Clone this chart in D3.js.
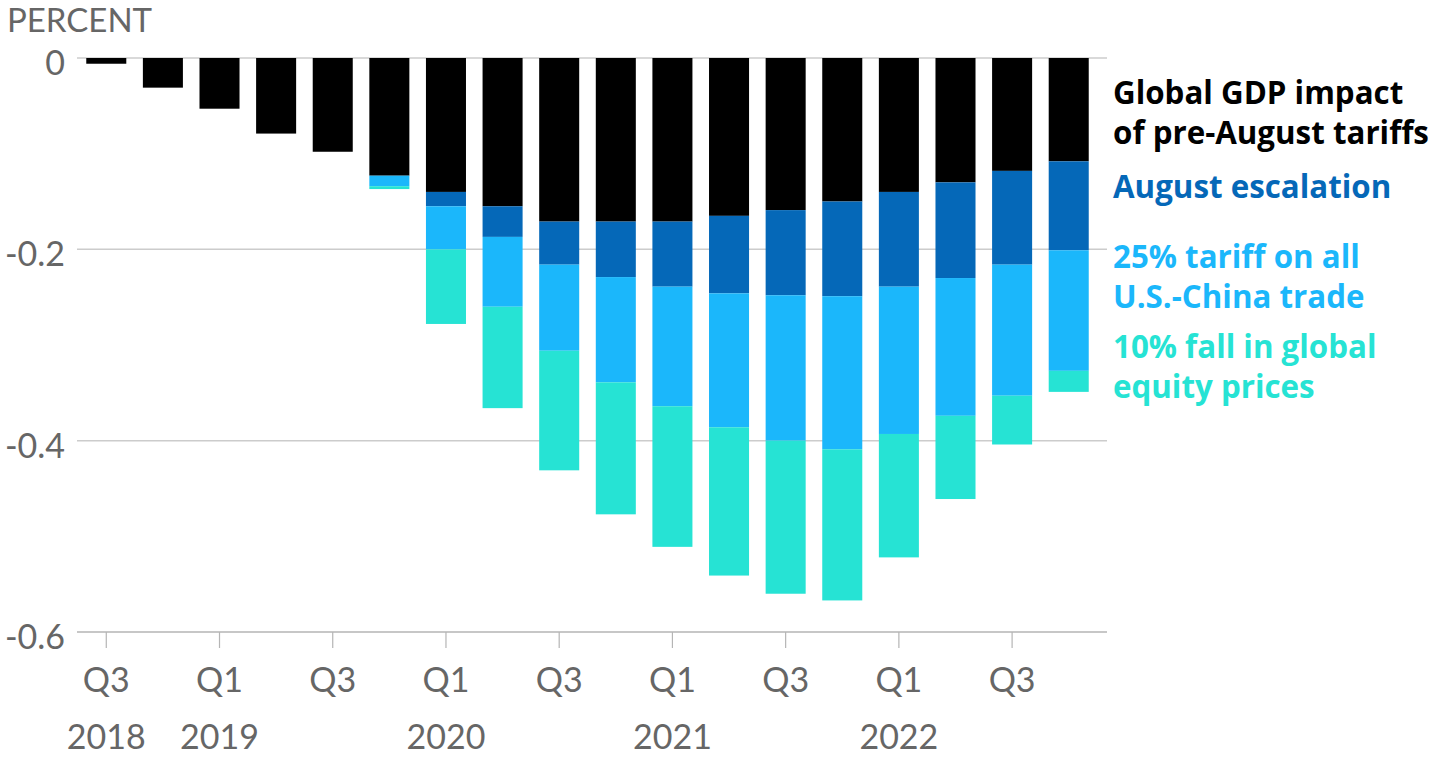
<!DOCTYPE html>
<html>
  <head>
    <title>Global GDP impact of tariffs</title>
    <script src="https://cdn.jsdelivr.net/npm/d3@7/dist/d3.min.js"></script>
    <style>
      body { margin: 0; background: #fff; }
      text { font-family: Lato, "Open Sans", sans-serif; }
      text.legend { font-family: "Open Sans", sans-serif; font-weight: bold; }
    </style>
  </head>
  <body>
    <svg width="1435" height="759"></svg>
    <script>

      // quarters, Q3 2018 .. Q4 2022
      const quarters = ["2018Q3","2018Q4","2019Q1","2019Q2","2019Q3","2019Q4",
                        "2020Q1","2020Q2","2020Q3","2020Q4","2021Q1","2021Q2",
                        "2021Q3","2021Q4","2022Q1","2022Q2","2022Q3","2022Q4"];

      // percent impact on global GDP, per layer
      const preAugust   = [-0.006,-0.031,-0.053,-0.079,-0.098,-0.123,-0.140,-0.155,-0.171,
                           -0.171,-0.171,-0.165,-0.159,-0.150,-0.140,-0.130,-0.118,-0.108];
      const augustEsc   = [0,0,0,0,0,0,-0.015,-0.032,-0.045,
                           -0.058,-0.068,-0.081,-0.089,-0.099,-0.099,-0.100,-0.098,-0.093];
      const tariff25    = [0,0,0,0,0,-0.011,-0.045,-0.073,-0.090,
                           -0.110,-0.125,-0.140,-0.152,-0.160,-0.154,-0.144,-0.137,-0.126];
      const equityFall  = [0,0,0,0,0,-0.003,-0.078,-0.106,-0.125,
                           -0.138,-0.147,-0.155,-0.160,-0.158,-0.129,-0.087,-0.051,-0.022];

      const seriesKeys   = ["pre","aug","t25","eq"];
      const seriesColors = ["#000000","#0568b8","#1bb7fb","#26e3d4"];
      const legendLines  = [
        ["Global GDP impact","of pre-August tariffs"],
        ["August escalation"],
        ["25% tariff on all","U.S.-China trade"],
        ["10% fall in global","equity prices"]
      ];

      const yTicks = [0,-0.2,-0.4,-0.6];
      const qTicks = ["2018Q3","2019Q1","2019Q3","2020Q1","2020Q3","2021Q1","2021Q3","2022Q1","2022Q3"];
      const yearTicks = ["2018Q3","2019Q1","2020Q1","2021Q1","2022Q1"];

      const svg = d3.select("svg");

      const table = quarters.map((q,i) => ({
        q,
        pre: preAugust[i],
        aug: augustEsc[i],
        t25: tariff25[i],
        eq: equityFall[i]
      }));

      const stack = d3.stack()
        .keys(seriesKeys)
        .offset(d3.stackOffsetDiverging);
      const layers = stack(table);

      const x = d3.scaleBand()
        .domain(quarters)
        .range([78, 1097])
        .paddingInner(0.293)
        .paddingOuter(0.146);

      const y = d3.scaleLinear()
        .domain([-0.6, 0])
        .range([632, 58]);

      const color = d3.scaleOrdinal().domain(seriesKeys).range(seriesColors);

      // gridlines
      svg.append("g")
        .selectAll("line")
        .data(yTicks)
        .join("line")
          .attr("x1", 77)
          .attr("x2", 1107)
          .attr("y1", d => y(d))
          .attr("y2", d => y(d))
          .attr("stroke", d => d === -0.6 ? "#b5b5b5" : "#cccccc")
          .attr("stroke-width", 1.5);

      // y labels
      svg.append("g")
        .selectAll("text")
        .data(yTicks)
        .join("text")
          .attr("x", 65)
          .attr("y", d => y(d) + 17)
          .attr("text-anchor", "end")
          .attr("font-size", 34)
          .attr("fill", "#666")
          .text(d => d === 0 ? "0" : d3.format(".1f")(d).replace("−","-"));

      svg.append("text")
        .attr("x", 7)
        .attr("y", 32)
        .attr("font-size", 33)
        .attr("fill", "#666")
        .text("PERCENT");

      // bars
      svg.append("g")
        .selectAll("g")
        .data(layers)
        .join("g")
          .attr("fill", d => color(d.key))
        .selectAll("rect")
        .data(d => d)
        .join("rect")
          .attr("x", d => x(d.data.q))
          .attr("width", x.bandwidth())
          .attr("y", d => y(d[1]))
          .attr("height", d => y(d[0]) - y(d[1]));

      // x axis ticks and labels
      const xAxis = svg.append("g");
      xAxis.selectAll("line")
        .data(qTicks)
        .join("line")
          .attr("x1", d => x(d) + x.bandwidth()/2)
          .attr("x2", d => x(d) + x.bandwidth()/2)
          .attr("y1", y(-0.6))
          .attr("y2", y(-0.6) + 16)
          .attr("stroke", "#b5b5b5")
          .attr("stroke-width", 1.2);

      xAxis.selectAll("text.q")
        .data(qTicks)
        .join("text")
          .attr("class", "q")
          .attr("x", d => x(d) + x.bandwidth()/2)
          .attr("y", 692)
          .attr("text-anchor", "middle")
          .attr("font-size", 34)
          .attr("fill", "#666")
          .text(d => d.slice(4));

      xAxis.selectAll("text.yr")
        .data(yearTicks)
        .join("text")
          .attr("class", "yr")
          .attr("x", d => x(d) + x.bandwidth()/2)
          .attr("y", 749)
          .attr("text-anchor", "middle")
          .attr("font-size", 34)
          .attr("fill", "#666")
          .text(d => d.slice(0,4));

      // legend
      const groupTop = [104, 198, 268, 358];
      const legend = svg.append("g");
      legendLines.forEach((lines, gi) => {
        lines.forEach((t, li) => {
          legend.append("text")
            .attr("class", "legend")
            .attr("x", 1113)
            .attr("y", groupTop[gi] + li * 40)
            .attr("font-size", 31.3)
            .attr("fill", seriesColors[gi])
            .text(t);
        });
      });

    </script>
  </body>
</html>
